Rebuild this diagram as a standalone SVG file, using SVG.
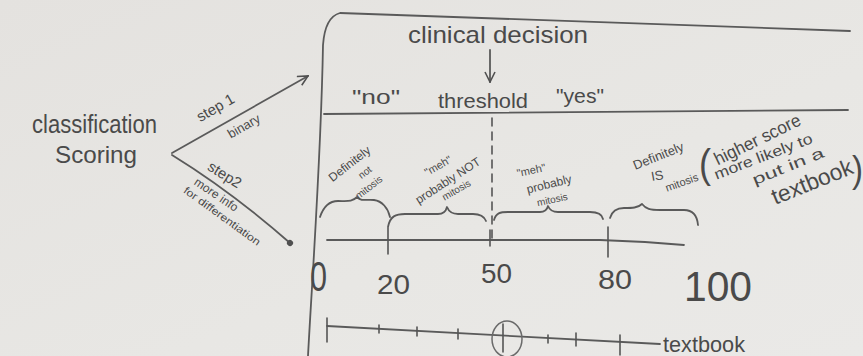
<svg xmlns="http://www.w3.org/2000/svg" width="863" height="356" viewBox="0 0 863 356">
<defs>
<linearGradient id="bg" x1="0" y1="0" x2="1" y2="1">
<stop offset="0" stop-color="#e4e2df"/>
<stop offset="0.6" stop-color="#e8e7e4"/>
<stop offset="1" stop-color="#eae9e7"/>
</linearGradient>
<marker id="open" viewBox="0 0 12 12" refX="11" refY="6" markerWidth="12" markerHeight="12" markerUnits="userSpaceOnUse" orient="auto">
<path d="M1,1 L11,6 L1,11" fill="none" stroke="#505050" stroke-width="1.6"/>
</marker>
<marker id="dot" viewBox="0 0 8 8" refX="4" refY="4" markerWidth="7" markerHeight="7" markerUnits="userSpaceOnUse" orient="auto">
<circle cx="4" cy="4" r="3.5" fill="#505050"/>
</marker>
<style>
.ln{fill:none;stroke:#5a5a5a;stroke-width:1.8;stroke-linecap:round;stroke-linejoin:round}
.tk{fill:none;stroke:#555;stroke-width:1.6;stroke-linecap:round}
.t{font-family:"Liberation Sans",Arial,sans-serif;fill:#4a4a4a}
.m{text-anchor:middle}
</style>
</defs>
<rect width="863" height="356" fill="url(#bg)"/>

<g id="classification-scoring">
<text class="t" x="32" y="133" font-size="26" textLength="125" lengthAdjust="spacingAndGlyphs">classification</text>
<text class="t" x="55" y="163" font-size="24" textLength="82" lengthAdjust="spacingAndGlyphs">Scoring</text>
</g>

<g id="connectors">
<path class="ln" d="M172,153 L308,76" marker-end="url(#open)"/>
<path class="ln" d="M172,155 Q232,192 290,243" marker-end="url(#dot)"/>
<path class="ln" d="M490,50 L490,82" marker-end="url(#open)"/>
</g>

<g id="step-labels">
<text class="t m" font-size="15" transform="translate(218,112) rotate(-30)">step 1</text>
<text class="t m" font-size="13" transform="translate(246,130) rotate(-30)">binary</text>
<text class="t m" font-size="15" transform="translate(222,179) rotate(32)">step2</text>
<text class="t m" font-size="12" transform="translate(214,198) rotate(34)">more info</text>
<text class="t m" font-size="10.5" transform="translate(220,219) rotate(36)" textLength="92" lengthAdjust="spacingAndGlyphs">for differentiation</text>
</g>

<g id="frame">
<path class="ln" d="M308,356 C312,280 321,160 323,45 Q325,17 340,13 L850,31"/>
<path class="ln" d="M324,114 L848,110"/>
</g>

<g id="clinical-decision">
<text class="t" x="408" y="43" font-size="24" textLength="180" lengthAdjust="spacingAndGlyphs">clinical decision</text>
</g>

<g id="decision-labels">
<text class="t" x="352" y="104" font-size="21" textLength="48" lengthAdjust="spacingAndGlyphs">"no"</text>
<text class="t" x="438" y="108" font-size="21" textLength="90" lengthAdjust="spacingAndGlyphs">threshold</text>
<text class="t" x="556" y="103" font-size="21" textLength="48" lengthAdjust="spacingAndGlyphs">"yes"</text>
</g>

<g id="threshold-line">
<path class="tk" d="M492,118 L492,240" stroke-dasharray="8 6"/>
</g>

<g id="categories">
<path class="ln" d="M320,217 C324,205 330,201 338,201 C348,201 352,202 357,197 C362,202 366,199 374,200 C382,201 388,208 390,217"/>
<path class="ln" d="M388,227 C390,216 396,214 405,214 L438,214 C443,214 446,211 447,207 C449,212 452,214 458,214 L473,214 C480,214 484,216 486,221"/>
<path class="ln" d="M494,220 C496,213 500,212 508,212 L540,212 C545,212 547,210 548,206 C550,211 553,212 558,212 L590,212 C598,212 602,214 603,219"/>
<path class="ln" d="M610,218 C612,211 616,208 624,208 C632,208 638,208 642,204 C646,209 650,210 660,210 L684,210 C692,210 697,214 698,225"/>
<g id="cat-1">
<text class="t m" font-size="12" transform="translate(352,167) rotate(-38)">Definitely</text>
<text class="t m" font-size="10" transform="translate(367,175) rotate(-38)">not</text>
<text class="t m" font-size="10" transform="translate(371,190) rotate(-38)">mitosis</text>
</g>
<g id="cat-2">
<text class="t m" font-size="11" transform="translate(440,169) rotate(-30)">"meh"</text>
<text class="t m" font-size="12" transform="translate(450,184) rotate(-33)">probably NOT</text>
<text class="t m" font-size="10" transform="translate(458,193) rotate(-30)">mitosis</text>
</g>
<g id="cat-3">
<text class="t m" font-size="11" transform="translate(532,174) rotate(-12)">"meh"</text>
<text class="t m" font-size="12" transform="translate(550,188) rotate(-14)">probably</text>
<text class="t m" font-size="10" transform="translate(553,203) rotate(-12)">mitosis</text>
</g>
<g id="cat-4">
<text class="t m" font-size="13" transform="translate(660,160) rotate(-22)">Definitely</text>
<text class="t m" font-size="13" transform="translate(658,180) rotate(-10)">IS</text>
<text class="t m" font-size="11" transform="translate(683,186) rotate(-20)">mitosis</text>
</g>
<g id="note">
<text class="t" x="699" y="178" font-size="40" textLength="12" lengthAdjust="spacingAndGlyphs">(</text>
<text class="t m" font-size="18" transform="translate(760,145) rotate(-26)" textLength="94" lengthAdjust="spacingAndGlyphs">higher score</text>
<text class="t m" font-size="15" transform="translate(765,161) rotate(-21)" textLength="104" lengthAdjust="spacingAndGlyphs">more likely to</text>
<text class="t m" font-size="15" transform="translate(790,171) rotate(-22)" textLength="76" lengthAdjust="spacingAndGlyphs">put in a</text>
<text class="t m" font-size="23" transform="translate(815,189) rotate(-22)" textLength="86" lengthAdjust="spacingAndGlyphs">textbook</text>
<text class="t" x="852" y="182" font-size="36" textLength="11" lengthAdjust="spacingAndGlyphs">)</text>
</g>
</g>

<g id="score-axis">
<path class="ln" d="M327,240 L600,240 L645,242 L684,245"/>
<path class="tk" d="M388,228 L388,254 M490,230 L490,246 M608,227 L608,257"/>
<text class="t" x="310" y="291" font-size="42" textLength="17" lengthAdjust="spacingAndGlyphs">0</text>
<text class="t" x="377" y="294" font-size="28" textLength="33" lengthAdjust="spacingAndGlyphs">20</text>
<text class="t" x="481" y="283" font-size="28" textLength="31" lengthAdjust="spacingAndGlyphs">50</text>
<text class="t" x="598" y="289" font-size="28" textLength="34" lengthAdjust="spacingAndGlyphs">80</text>
<text class="t" x="684" y="301" font-size="42" textLength="68" lengthAdjust="spacingAndGlyphs">100</text>
</g>

<g id="textbook-axis">
<path class="ln" d="M327,326 L660,344"/>
<path class="tk" d="M327,318 L327,342 M379,325 L379,333 M417,327 L417,336 M458,329 L458,339 M503,324 L503,352 M548,335 L548,343 M576,333 L576,346 M620,335 L620,355"/>
<ellipse cx="507" cy="339" rx="15" ry="18" fill="none" stroke="#6a6a6a" stroke-width="1.5"/>
<text class="t" x="663" y="352" font-size="22" textLength="82" lengthAdjust="spacingAndGlyphs">textbook</text>
</g>
</svg>
